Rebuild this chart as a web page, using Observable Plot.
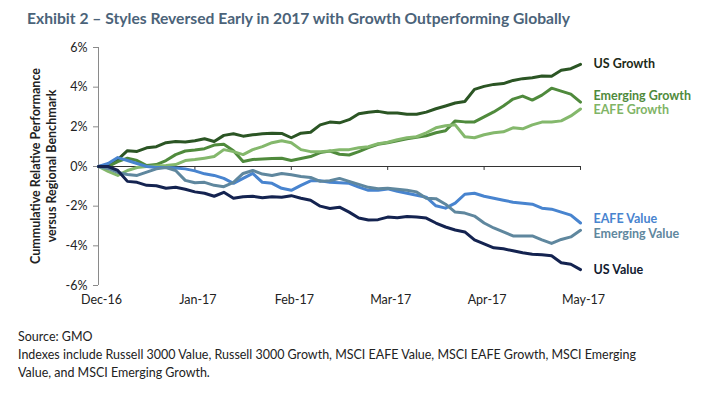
<!DOCTYPE html>
<html>
<head>
<meta charset="utf-8">
<script src="https://cdn.jsdelivr.net/npm/d3@7"></script>
<script src="https://cdn.jsdelivr.net/npm/@observablehq/plot@0.6"></script>
<style>
  body { margin: 0; background: #fff; }
  #wrap { position: relative; width: 720px; height: 394px; overflow: hidden; font-family: Lato, "Open Sans", sans-serif; color: #222; }
  #title { position: absolute; left: 27px; top: 8px; font-weight: 700; font-size: 16px; color: #4b6379; white-space: nowrap; transform-origin: left center; }
  #chart { position: absolute; left: 0; top: 30px; }
  #ytitle { position: absolute; left: -75px; top: 149px; width: 240px; height: 34px; text-align: center; font-weight: 700; font-size: 12.5px; line-height: 16px; color: #222; transform: rotate(-90deg); transform-origin: center center; white-space: nowrap; }
  .cap { position: absolute; left: 18px; font-size: 12.5px; white-space: nowrap; transform-origin: left center; color: #222; }
</style>
</head>
<body>
<div id="wrap">
  <div id="title"></div>
  <div id="chart"></div>
  <div id="ytitle"></div>
  <div id="cap1" class="cap" style="top:329px"></div>
  <div id="cap2" class="cap" style="top:347px"></div>
  <div id="cap3" class="cap" style="top:365px"></div>
</div>
<script>
// ---- text ----
const titleText = "Exhibit 2 – Styles Reversed Early in 2017 with Growth Outperforming Globally";
const yTitleLines = ["Cummulative Relative Performance", "versus Regional Benchmark"];
const captionLines = [
  "Source: GMO",
  "Indexes include Russell 3000 Value, Russell 3000 Growth, MSCI EAFE Value, MSCI EAFE Growth, MSCI Emerging",
  "Value, and MSCI Emerging Growth."
];

// ---- axes ----
const yTicks = [-6, -4, -2, 0, 2, 4, 6];
const xTickDays = [0, 20, 40, 60, 80, 100];
const xTickLabels = ["Dec-16", "Jan-17", "Feb-17", "Mar-17", "Apr-17", "May-17"];

// ---- data (trading-day index, cumulative relative performance in %) ----
const day = [0,2,4,6,8,10,12,14,16,18,20,22,24,26,28,30,32,34,36,38,40,42,44,46,48,50,
             52,54,56,58,60,62,64,66,68,70,72,74,76,78,80,82,84,86,88,90,92,94,96,98,100];

const seriesNames = ["US Growth", "Emerging Growth", "EAFE Growth", "EAFE Value", "Emerging Value", "US Value"];

const usGrowth = [0, 0.05, 0.35, 0.8, 0.76, 0.94, 1.0, 1.2, 1.26, 1.23, 1.3, 1.4, 1.26, 1.57, 1.65, 1.53, 1.6, 1.65, 1.68, 1.67, 1.45, 1.68, 1.73, 2.1, 2.24, 2.2,
  2.36, 2.66, 2.74, 2.78, 2.7, 2.7, 2.63, 2.63, 2.74, 2.91, 3.05, 3.2, 3.28, 3.89, 4.04, 4.14, 4.18, 4.34, 4.43, 4.48, 4.56, 4.55, 4.85, 4.93, 5.15];
const emergingGrowth = [0, 0, 0.25, 0.42, 0.3, 0.05, 0.1, 0.3, 0.6, 0.78, 0.83, 0.9, 1.08, 1.12, 0.8, 0.25, 0.35, 0.38, 0.4, 0.42, 0.3, 0.4, 0.5, 0.7, 0.78, 0.62,
  0.58, 0.75, 0.95, 1.12, 1.2, 1.3, 1.4, 1.48, 1.55, 1.7, 1.8, 2.3, 2.25, 2.25, 2.5, 2.75, 3.05, 3.4, 3.55, 3.35, 3.6, 3.95, 3.8, 3.65, 3.25];
const eafeGrowth = [0, -0.25, -0.45, -0.2, -0.05, 0, 0.02, 0.05, 0.1, 0.3, 0.35, 0.42, 0.5, 0.85, 0.75, 0.6, 0.85, 1.0, 1.2, 1.3, 1.2, 0.85, 0.75, 0.75, 0.78, 0.85,
  0.85, 0.95, 1.0, 1.15, 1.22, 1.35, 1.45, 1.5, 1.7, 1.95, 2.05, 2.1, 1.5, 1.45, 1.6, 1.7, 1.75, 1.95, 1.9, 2.1, 2.24, 2.24, 2.3, 2.55, 2.9];
const eafeValue = [0, 0.15, 0.45, 0.3, 0.15, 0, -0.05, -0.05, -0.08, -0.12, -0.22, -0.37, -0.45, -0.6, -0.85, -0.6, -0.35, -0.8, -0.85, -1.1, -1.2, -0.95, -0.72, -0.72, -0.8, -0.82,
  -0.85, -1.04, -1.2, -1.2, -1.13, -1.25, -1.35, -1.45, -1.55, -1.98, -2.1, -1.85, -1.4, -1.35, -1.5, -1.6, -1.7, -1.8, -1.85, -1.9, -2.1, -2.15, -2.3, -2.45, -2.85];
const emergingValue = [0, -0.1, -0.3, -0.4, -0.45, -0.28, -0.12, -0.05, -0.2, -0.7, -0.82, -0.8, -0.95, -1.02, -0.8, -0.35, -0.2, -0.38, -0.45, -0.35, -0.42, -0.5, -0.55, -0.75, -0.72, -0.6,
  -0.75, -0.9, -1.05, -1.12, -1.1, -1.15, -1.2, -1.28, -1.6, -1.62, -1.9, -2.3, -2.35, -2.5, -2.85, -3.1, -3.3, -3.5, -3.5, -3.5, -3.7, -3.88, -3.68, -3.55, -3.22];
const usValue = [0, 0, -0.2, -0.75, -0.8, -0.95, -0.97, -1.1, -1.05, -1.15, -1.28, -1.35, -1.5, -1.3, -1.6, -1.52, -1.5, -1.58, -1.52, -1.55, -1.47, -1.6, -1.7, -2.0, -2.12, -2.05,
  -2.3, -2.6, -2.7, -2.68, -2.55, -2.58, -2.52, -2.55, -2.6, -2.85, -3.05, -3.2, -3.3, -3.7, -3.9, -4.1, -4.15, -4.25, -4.35, -4.42, -4.45, -4.5, -4.85, -4.93, -5.2];

const seriesValues = [usGrowth, emergingGrowth, eafeGrowth, eafeValue, emergingValue, usValue];

// ---- styles ----
const lineColors  = ["#2b5524", "#4f8a3c", "#84b86c", "#4884cf", "#5f879e", "#142350"];
const labelColors = ["#1c2a17", "#4f8a3c", "#7fb466", "#4884cf", "#5f879e", "#111a30"];
const labelDy = [0, -6, 1, -4, 4, 0];

// ---- build table ----
const rows = [];
seriesNames.forEach((name, k) => seriesValues[k].forEach((v, j) => rows.push({series: name, day: day[j], value: v})));
const ends = seriesNames.map((name, k) => ({series: name, k, day: day[day.length - 1], value: seriesValues[k][seriesValues[k].length - 1]}));

const chart = Plot.plot({
  width: 720,
  height: 285,
  marginLeft: 98,
  marginRight: 140,
  marginTop: 17,
  marginBottom: 30,
  style: {fontFamily: "Lato, 'Open Sans', sans-serif", fontSize: "12.5px", color: "#222", background: "transparent", overflow: "visible"},
  x: {domain: [0, 100], axis: null},
  y: {domain: [-6, 6], axis: null},
  color: {domain: seriesNames, range: lineColors},
  marks: [
    Plot.ruleX([0], {y1: -6, y2: 6, stroke: "#8a8a8a", strokeWidth: 1}),
    Plot.axisY(yTicks, {anchor: "left", label: null, tickSize: 5, tickPadding: 6, stroke: "#8a8a8a", fill: "#222", tickFormat: d => d + "%"}),
    Plot.ruleY([0], {x1: 0, x2: 100, stroke: "#333", strokeWidth: 1}),
    Plot.ruleX(xTickDays.slice(1), {y1: 0, y2: -0.2, stroke: "#333", strokeWidth: 1}),
    Plot.axisX(xTickDays, {anchor: "bottom", label: null, tickSize: 0, tickPadding: 10, dx: 3, fill: "#222", tickFormat: d => xTickLabels[xTickDays.indexOf(d)]}),
    Plot.line(rows, {x: "day", y: "value", z: "series", stroke: "series", strokeWidth: 3, strokeLinejoin: "round", strokeLinecap: "round"}),
    ...ends.map(e => Plot.text([e], {x: "day", y: "value", text: "series", dx: 13, dy: labelDy[e.k], textAnchor: "start", fontWeight: 700, fill: labelColors[e.k], fontSize: 12.5}))
  ]
});
document.getElementById("chart").appendChild(chart);

// ---- html texts ----
function fit(el, text, target) {
  el.textContent = text;
  const w = el.getBoundingClientRect().width;
  if (w > 0) el.style.transform = `scaleX(${target / w})`;
}
fit(document.getElementById("title"), titleText, 543);
document.getElementById("ytitle").innerHTML = yTitleLines.map(t => `<div>${t}</div>`).join("");
fit(document.getElementById("cap2"), captionLines[1], 618);
["cap1", "cap3"].forEach((id, i) => {
  const el = document.getElementById(id);
  el.textContent = captionLines[i === 0 ? 0 : 2];
  el.style.transform = document.getElementById("cap2").style.transform;
});
</script>
</body>
</html>
